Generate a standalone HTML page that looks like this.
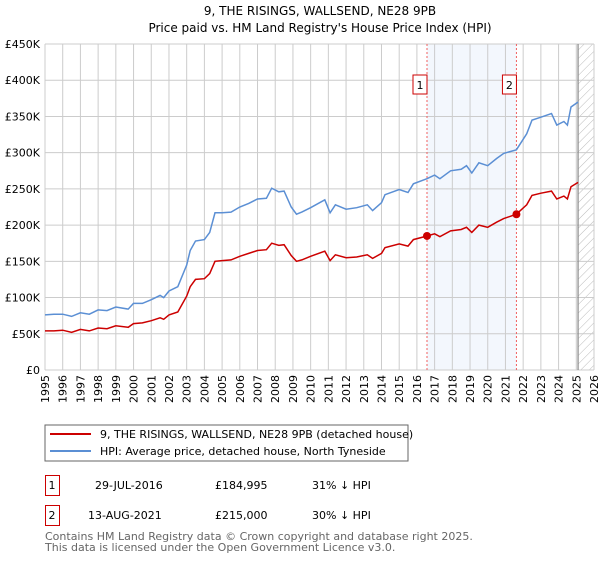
<!DOCTYPE html>
<html><head><meta charset="utf-8"><style>
body{margin:0;background:#fff;width:600px;height:560px;overflow:hidden;font-family:"DejaVu Sans","Liberation Sans",sans-serif}
svg text{font-family:"DejaVu Sans","Liberation Sans",sans-serif}
</style></head><body>
<svg id="c" width="600" height="560">
<defs><pattern id="hatch" width="6" height="6" patternUnits="userSpaceOnUse" patternTransform="rotate(45)"><line x1="0" y1="0" x2="0" y2="6" stroke="#bbb" stroke-width="1"/></pattern></defs>
<text x="320" y="15" text-anchor="middle" font-size="12">9, THE RISINGS, WALLSEND, NE28 9PB</text>
<text x="320" y="32" text-anchor="middle" font-size="12">Price paid vs. HM Land Registry's House Price Index (HPI)</text>
<g id="grid"></g><g id="axes"></g><g id="series"></g>
<rect x="45" y="425" width="363" height="36" fill="#fff" stroke="#666"/>
<line x1="50" y1="434" x2="91" y2="434" stroke="#cc0000" stroke-width="2"/>
<text x="100" y="438" font-size="11">9, THE RISINGS, WALLSEND, NE28 9PB (detached house)</text>
<line x1="50" y1="451" x2="91" y2="451" stroke="#5b8fd4" stroke-width="2"/>
<text x="100" y="455" font-size="11">HPI: Average price, detached house, North Tyneside</text>
<g font-size="11">
<rect x="45.5" y="475.5" width="14" height="20" fill="none" stroke="#cc0000"/><text x="52" y="489" text-anchor="middle">1</text>
<text x="95" y="489">29-JUL-2016</text><text x="215" y="489">£184,995</text><text x="312" y="489">31% ↓ HPI</text></g>
<g font-size="11">
<rect x="45.5" y="505.5" width="14" height="20" fill="none" stroke="#cc0000"/><text x="52" y="519" text-anchor="middle">2</text>
<text x="88" y="519">13-AUG-2021</text><text x="215" y="519">£215,000</text><text x="312" y="519">30% ↓ HPI</text></g>
<text x="45" y="540" font-size="11" fill="#666">Contains HM Land Registry data © Crown copyright and database right 2025.</text>
<text x="45" y="551" font-size="11" fill="#666">This data is licensed under the Open Government Licence v3.0.</text>
</svg>
<script>
const years=[1995,1995.5,1996,1996.5,1997,1997.5,1998,1998.5,1999,1999.7,2000,2000.5,2001,2001.5,2001.7,2002,2002.5,2003,2003.2,2003.5,2004,2004.3,2004.6,2005,2005.5,2006,2006.5,2007,2007.5,2007.8,2008.2,2008.5,2008.9,2009.2,2009.5,2010,2010.8,2011.1,2011.4,2012,2012.6,2013.2,2013.5,2014,2014.2,2015,2015.5,2015.8,2016.57,2017,2017.3,2017.9,2018.5,2018.8,2019.1,2019.5,2020,2020.5,2020.9,2021.62,2022.2,2022.5,2023,2023.6,2023.9,2024.3,2024.5,2024.7,2025.1];
const hpi=[76,77,77,74,79,77,83,82,87,84,92,92,97,103,100,109,115,145,165,178,180,190,217,217,218,225,230,236,237,251,246,247,225,215,218,224,235,217,228,222,224,228,220,231,242,249,245,257,264,269,264,275,277,282,272,286,282,292,299,304,326,345,349,354,338,343,338,363,370];
const price=[54,54,55,52,56,54,58,57,61,59,64,65,68,72,70,76,80,102,115,125,126,133,150,151,152,157,161,165,166,175,172,173,158,150,152,157,164,151,159,155,156,159,154,161,169,174,171,180,185,188,184,192,194,197,190,200,197,204,209,215,228,241,244,247,236,240,236,253,259];
const sales=[[2016.57,184995/1000],[2021.62,215000/1000]];
const yTicks=[0,50,100,150,200,250,300,350,400,450];
const yLabels=["£0","£50K","£100K","£150K","£200K","£250K","£300K","£350K","£400K","£450K"];
const xTicks=[];for(let y=1995;y<=2026;y++)xTicks.push(y);
const X0=45,X1=594,Y0=370,Y1=44;
const sx=v=>X0+(v-1995)/(2026-1995)*(X1-X0);
const sy=v=>Y0-v/450*(Y0-Y1);
const NS="http://www.w3.org/2000/svg";
function mk(parent,tag,attrs){const e=document.createElementNS(NS,tag);for(const k in attrs)e.setAttribute(k,attrs[k]);document.getElementById(parent).appendChild(e);return e;}
let e;
e=mk('grid','rect',{x:sx(sales[0][0]),y:Y1,width:sx(sales[1][0])-sx(sales[0][0]),height:Y0-Y1,fill:'#eef3fc',opacity:0.7});


e=mk('grid','rect',{x:sx(2025.1),y:Y1,width:X1-sx(2025.1),height:Y0-Y1,fill:'url(#hatch)'});


xTicks.forEach(t=>{e=mk('grid','line',{x1:sx(t),x2:sx(t),y1:Y1,y2:Y0,stroke:'#ccc','stroke-width':1});


e=mk('axes','text',{x:0,y:0,'font-size':11,'text-anchor':'end',transform:`translate(${sx(t)+4},${Y0+5}) rotate(-90)`});e.textContent=t;

});
yTicks.forEach((t,i)=>{e=mk('grid','line',{x1:X0,x2:X1,y1:sy(t),y2:sy(t),stroke:'#ccc','stroke-width':1});


e=mk('axes','text',{x:40,y:sy(t)+4,'font-size':11,'text-anchor':'end'});e.textContent=yLabels[i];

});
e=mk('grid','line',{x1:sx(2025.1),x2:sx(2025.1),y1:Y1,y2:Y0,stroke:'#888','stroke-width':1.2});


sales.forEach((s,i)=>{e=mk('series','line',{x1:sx(s[0]),x2:sx(s[0]),y1:Y1,y2:Y0,stroke:'#f06060','stroke-width':1,'stroke-dasharray':'2,2'});


e=mk('series','rect',{x:sx(s[0])-14,y:75,width:14,height:19,fill:'#fff',stroke:'#cc0000'});


e=mk('series','text',{x:sx(s[0])-7,y:89,'font-size':11,'text-anchor':'middle'});e.textContent=i+1;

});
const path=arr=>arr.map((v,i)=>(i?'L':'M')+sx(years[i]).toFixed(1)+','+sy(v).toFixed(1)).join('');
e=mk('series','path',{d:path(hpi),fill:'none',stroke:'#5b8fd4','stroke-width':1.5});


e=mk('series','path',{d:path(price),fill:'none',stroke:'#cc0000','stroke-width':1.5});


sales.forEach((s,i)=>{e=mk('series','circle',{cx:sx(s[0]),cy:sy(s[1]),r:4,fill:'#cc0000'});

});
</script>
</body></html>
